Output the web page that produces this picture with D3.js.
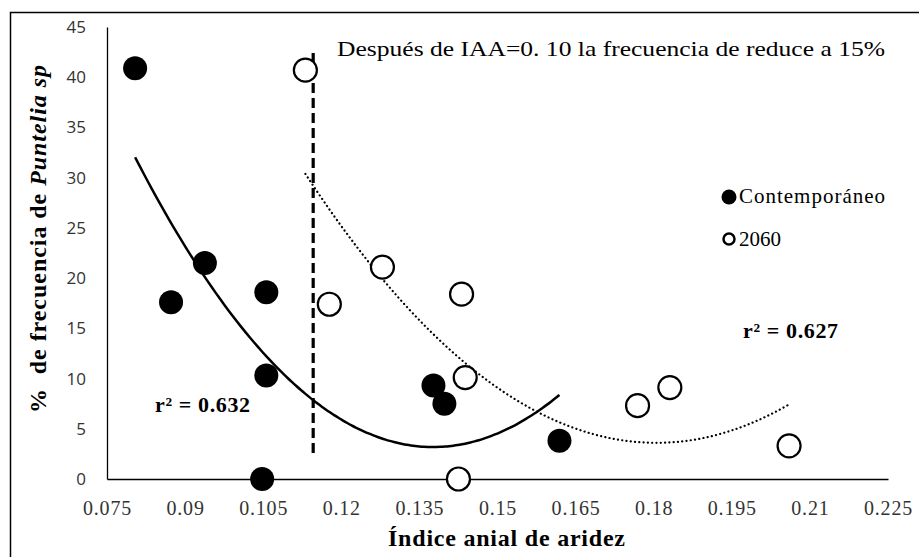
<!DOCTYPE html>
<html>
<head>
<meta charset="utf-8">
<script src="https://cdn.jsdelivr.net/npm/d3@7"></script>
<style>
	body { margin: 0; background: #fff; }
	.serif { font-family: "Liberation Serif", "Times New Roman", serif; fill: #000; }
	.y-tick { font-family: "Open Sans", "Noto Sans", sans-serif; font-size: 17px; fill: #333; }
	.x-tick { font-family: "Liberation Serif", serif; font-size: 20px; fill: #333; }
</style>
</head>
<body>
<div id="chart"></div>
<script>

///////////////////////////////////////////////////////////////////////////
//////////////////////////////// Data /////////////////////////////////////
///////////////////////////////////////////////////////////////////////////

//Contemporaneo (filled)
var contX = [0.0804, 0.0873, 0.0938, 0.1056, 0.1056, 0.1048, 0.1377, 0.1398, 0.1619];
var contY = [40.9, 17.6, 21.5, 18.6, 10.3, 0, 9.3, 7.5, 3.8];

//2060 (open)
var futX = [0.1131, 0.1177, 0.1279, 0.1431, 0.1438, 0.1425, 0.1769, 0.1831, 0.2060];
var futY = [40.7, 17.4, 21.1, 18.4, 10.1, 0, 7.3, 9.1, 3.3];

var xTicks = [0.075, 0.09, 0.105, 0.12, 0.135, 0.15, 0.165, 0.18, 0.195, 0.21, 0.225];
var yTicks = [0, 5, 10, 15, 20, 25, 30, 35, 40, 45];

var thresholdX = 0.1146;
var thresholdY = [2.6, 42.4];

///////////////////////////////////////////////////////////////////////////
//////////////////////////// Set up the SVG ///////////////////////////////
///////////////////////////////////////////////////////////////////////////

var width = 919, height = 557;

var svg = d3.select("#chart").append("svg")
	.attr("width", width)
	.attr("height", height);

//outer frame
svg.append("rect")
	.attr("x", 10.5).attr("y", 12.5)
	.attr("width", 920).attr("height", 560)
	.style("fill", "none").style("stroke", "#000").style("stroke-width", 1.5);

var xScale = d3.scaleLinear().domain([0.075, 0.225]).range([107, 888]);
var yScale = d3.scaleLinear().domain([0, 45]).range([479, 27]);

///////////////////////////////////////////////////////////////////////////
//////////////////////////////// Axes /////////////////////////////////////
///////////////////////////////////////////////////////////////////////////

var xAxis = svg.append("g")
	.attr("transform", "translate(0," + yScale(0) + ")")
	.call(d3.axisBottom(xScale).tickValues(xTicks).tickSize(0)
		.tickFormat(function(d) { return String(+d.toFixed(3)); }));
xAxis.select(".domain").style("stroke", "#000").style("stroke-width", 1.3);
xAxis.selectAll("text").attr("class", "x-tick").attr("dy", 0).attr("y", 36).style("letter-spacing", "0.8px");

var yAxis = svg.append("g")
	.attr("transform", "translate(" + xScale(0.075) + ",0)")
	.call(d3.axisLeft(yScale).tickValues(yTicks).tickSize(0).tickPadding(21));
yAxis.select(".domain").style("stroke", "#000").style("stroke-width", 1.3);
yAxis.selectAll("text").attr("class", "y-tick");

///////////////////////////////////////////////////////////////////////////
/////////////////////////// Trend lines ///////////////////////////////////
///////////////////////////////////////////////////////////////////////////

//2nd order least squares, like the spreadsheet trendline
function quadFit(xs, ys) {
	var n = xs.length, s = [0,0,0,0,0], t = [0,0,0];
	for (var i = 0; i < n; i++) {
		var p = 1;
		for (var k = 0; k < 5; k++) { s[k] += p; if (k < 3) t[k] += p * ys[i]; p *= xs[i]; }
	}
	var m = [[s[0], s[1], s[2], t[0]], [s[1], s[2], s[3], t[1]], [s[2], s[3], s[4], t[2]]];
	for (var c = 0; c < 3; c++) {
		for (var r = c + 1; r < 3; r++) {
			var f = m[r][c] / m[c][c];
			for (var j = c; j < 4; j++) m[r][j] -= f * m[c][j];
		}
	}
	var b = [0,0,0];
	for (var r2 = 2; r2 >= 0; r2--) {
		var v = m[r2][3];
		for (var j2 = r2 + 1; j2 < 3; j2++) v -= m[r2][j2] * b[j2];
		b[r2] = v / m[r2][r2];
	}
	return function(x) { return b[0] + b[1] * x + b[2] * x * x; };
}

function trendPoints(xs, ys) {
	var f = quadFit(xs, ys), ext = d3.extent(xs);
	return d3.range(0, 101).map(function(i) {
		var x = ext[0] + (ext[1] - ext[0]) * i / 100;
		return [x, f(x)];
	});
}

var line = d3.line()
	.x(function(d) { return xScale(d[0]); })
	.y(function(d) { return yScale(d[1]); })
	.curve(d3.curveBasis);

svg.append("path")
	.datum(trendPoints(contX, contY))
	.attr("d", line)
	.style("fill", "none").style("stroke", "#000").style("stroke-width", 2.5);

svg.append("path")
	.datum(trendPoints(futX, futY))
	.attr("d", line)
	.style("fill", "none").style("stroke", "#000").style("stroke-width", 2.2)
	.style("stroke-dasharray", "0.1 4.2").style("stroke-linecap", "round");

//threshold line
svg.append("line")
	.attr("x1", xScale(thresholdX)).attr("x2", xScale(thresholdX))
	.attr("y1", yScale(thresholdY[1])).attr("y2", yScale(thresholdY[0]))
	.style("stroke", "#000").style("stroke-width", 3.2)
	.style("stroke-dasharray", "10 5");

///////////////////////////////////////////////////////////////////////////
//////////////////////////// Draw the circles /////////////////////////////
///////////////////////////////////////////////////////////////////////////

svg.selectAll(".cont")
	.data(contX)
	.enter().append("circle")
	.attr("class", "cont")
	.attr("cx", function(d) { return xScale(d); })
	.attr("cy", function(d, i) { return yScale(contY[i]); })
	.attr("r", 12)
	.style("fill", "#000");

svg.selectAll(".fut")
	.data(futX)
	.enter().append("circle")
	.attr("class", "fut")
	.attr("cx", function(d) { return xScale(d); })
	.attr("cy", function(d, i) { return yScale(futY[i]); })
	.attr("r", 11.5)
	.style("fill", "#fff").style("stroke", "#000").style("stroke-width", 2.2);

///////////////////////////////////////////////////////////////////////////
//////////////////////////// Texts and legend /////////////////////////////
///////////////////////////////////////////////////////////////////////////

svg.append("text")
	.attr("class", "serif")
	.attr("x", 337).attr("y", 56)
	.attr("textLength", 548).attr("lengthAdjust", "spacingAndGlyphs")
	.style("font-size", "22px")
	.text("Después de IAA=0. 10 la frecuencia de reduce a 15%");

svg.append("text")
	.attr("class", "serif")
	.attr("x", 743).attr("y", 338)
	.attr("textLength", 95)
	.style("font-size", "22px").style("font-weight", "bold")
	.text("r² = 0.627");

svg.append("text")
	.attr("class", "serif")
	.attr("x", 155).attr("y", 412)
	.attr("textLength", 95)
	.style("font-size", "22px").style("font-weight", "bold")
	.text("r² = 0.632");

//x title
svg.append("text")
	.attr("class", "serif")
	.attr("x", 388).attr("y", 546)
	.attr("textLength", 237)
	.style("font-size", "24px").style("font-weight", "bold")
	.text("Índice anial de aridez");

//y title
var yTitle = svg.append("text")
	.attr("class", "serif")
	.attr("transform", "translate(46,413) rotate(-90)")
	.attr("textLength", 348)
	.style("font-size", "24px").style("font-weight", "bold");
yTitle.append("tspan").attr("xml:space", "preserve").text("%  de frecuencia de ");
yTitle.append("tspan").style("font-style", "italic").text("Puntelia sp");

//legend
var legend = svg.append("g").attr("transform", "translate(729,0)");
legend.append("circle").attr("cx", 0).attr("cy", 197).attr("r", 7.5).style("fill", "#000");
legend.append("text").attr("class", "serif").attr("x", 10).attr("y", 203)
	.attr("textLength", 146)
	.style("font-size", "21px").text("Contemporáneo");
legend.append("circle").attr("cx", 0).attr("cy", 239).attr("r", 5.5)
	.style("fill", "#fff").style("stroke", "#000").style("stroke-width", 2.5);
legend.append("text").attr("class", "serif").attr("x", 10).attr("y", 246)
	.style("font-size", "21px").text("2060");

</script>
</body>
</html>
